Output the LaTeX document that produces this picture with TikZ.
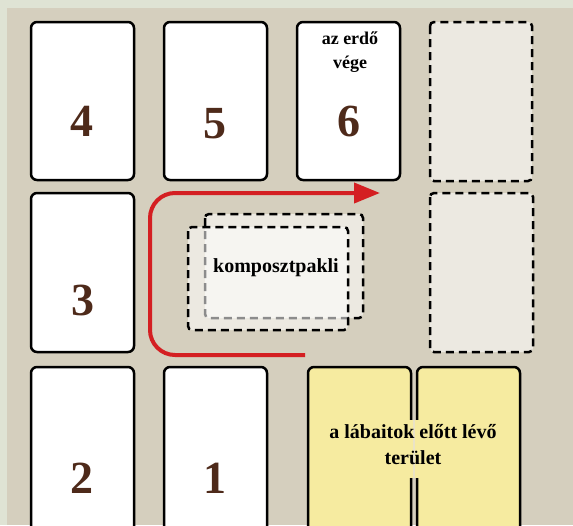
\documentclass[tikz,border=0pt]{standalone}
\usepackage{fontspec}
\setmainfont{Liberation Serif}
\usetikzlibrary{arrows.meta}
\definecolor{outerbg}{HTML}{DFE3D4}
\definecolor{panelbg}{HTML}{D5CFBE}
\definecolor{numbrown}{HTML}{4E2A1A}
\definecolor{cardyellow}{HTML}{F6EBA0}
\definecolor{gapcream}{HTML}{EAE3C6}
\definecolor{arrowred}{HTML}{D41F22}
\tikzset{
  card/.style={draw=black, line width=2.5pt, rounded corners=6pt, fill=white},
  ycard/.style={draw=black, line width=2.5pt, rounded corners=6pt, fill=cardyellow},
  slot/.style={draw=black, line width=2.5pt, dash pattern=on 8pt off 5pt, rounded corners=4pt, fill=white, fill opacity=0.55},
  num/.style={font=\bfseries\fontsize{46}{46}\selectfont, text=numbrown, inner sep=0pt},
  lbl/.style={font=\bfseries\fontsize{20}{26}\selectfont, align=center, inner sep=0pt},
  flow/.style={draw=arrowred, line width=4pt, rounded corners=25pt, -{Triangle[length=26pt,width=20pt]}}
}
\begin{document}
\begin{tikzpicture}[x=1pt,y=-1pt]
\useasboundingbox (0,0) rectangle (573,525);
\fill[outerbg] (0,0) rectangle (573,525);
\fill[panelbg] (7,8) rectangle (573,525);
% row 1
\draw[card] (31,22) rectangle (134,180);
\draw[card] (164,22) rectangle (267,180);
\draw[card] (297,22) rectangle (400,180);
\draw[slot] (430,22) rectangle (532,181);
% row 2
\draw[card] (31,193) rectangle (134,352);
\draw[slot] (430,193) rectangle (533,352);
% row 3
\draw[card] (31,367) rectangle (134,540);
\draw[card] (164,367) rectangle (267,540);
\draw[ycard] (308,367) rectangle (411,540);
\draw[ycard] (417,367) rectangle (520,540);
% compost deck
\draw[slot] (205,214) rectangle (363,318);
\draw[slot] (188,227) rectangle (348,330);
% gap patch behind text
\fill[cardyellow] (408.5,420) rectangle (412.6,478);
\fill[gapcream] (412.6,420) rectangle (415.4,478);
\fill[cardyellow] (415.4,420) rectangle (419.5,478);
% numbers
\node[num] (n4) at (82,121) {4};
\node[num] (n5) at (215,124) {5};
\node[num] (n6) at (349,121) {6};
\node[num] (n3) at (83,300) {3};
\node[num] (n2) at (82,478) {2};
\node[num] (n1) at (215,478) {1};
% labels
\node[lbl, font=\bfseries\fontsize{18}{24}\selectfont] (erdo) at (350,52) {az erdő\\vége};
\node[lbl] (komp) at (276,268) {komposztpakli};
\node[lbl] (lab) at (413,445) {a lábaitok előtt lévő\\terület};
% arrow
\coordinate (as) at (305,355);
\coordinate (ac) at (150,193);
\coordinate (ae) at (380,193);
\draw[flow] (as) -| (ac) -- (ae);
\end{tikzpicture}
\end{document}
